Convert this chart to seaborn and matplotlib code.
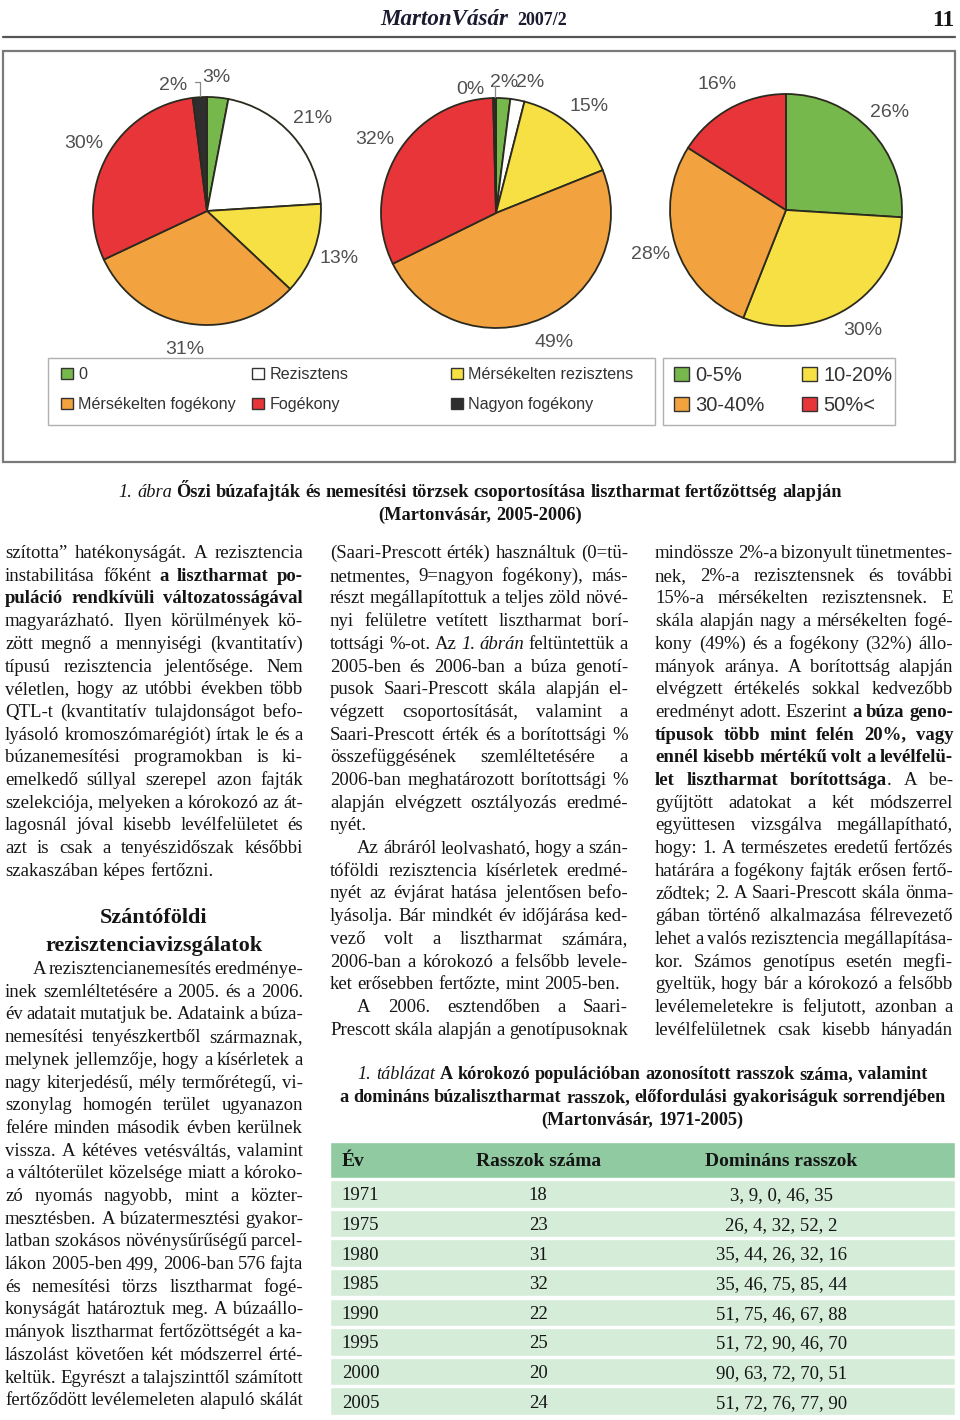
import matplotlib
matplotlib.use("Agg")
import matplotlib.pyplot as plt
import seaborn as sns
import numpy as np
from matplotlib.font_manager import FontProperties
from matplotlib.patches import Patch, Rectangle
from matplotlib.lines import Line2D

sns.set_theme(style="white")
plt.rcParams["font.family"] = ["Liberation Sans", "DejaVu Sans"]

W, H = 960, 1420
SERIF = "Liberation Serif"

# --- adatok: a harom kordiagram ---
classes = ["0", "Rezisztens", "Mérsékelten rezisztens",
           "Mérsékelten fogékony", "Fogékony", "Nagyon fogékony"]
pie_2005 = [3, 21, 13, 31, 30, 2]
labels_2005 = ["3%", "21%", "13%", "31%", "30%", "2%"]
pie_2006 = [2, 2, 15, 49, 32, 0.4]
labels_2006 = ["2%", "2%", "15%", "49%", "32%", "0%"]
cover_classes = ["0-5%", "10-20%", "30-40%", "50%<"]
pie_cover = [26, 30, 28, 16]
labels_cover = ["26%", "30%", "28%", "16%"]

class_colors = ["#77b84d", "#ffffff", "#f6e044", "#f2a23f", "#e8353a", "#2e2e2e"]
cover_colors = ["#77b84d", "#f6e044", "#f2a23f", "#e8353a"]

# --- adatok: tablazat ---
years = ["1971", "1975", "1980", "1985", "1990", "1995", "2000", "2005"]
race_counts = [18, 23, 31, 32, 22, 25, 20, 24]
dominant = ["3, 9, 0, 46, 35", "26, 4, 32, 52, 2", "35, 44, 26, 32, 16",
            "35, 46, 75, 85, 44", "51, 75, 46, 67, 88", "51, 72, 90, 46, 70",
            "90, 63, 72, 70, 51", "51, 72, 76, 77, 90"]
table_header = ["Év", "Rasszok száma", "Domináns rasszok"]

# --- szoveg (* = felkover, _ = dolt, » = behuzas, ¶ = bekezdes vege) ---
col1_a = [
    "szította” hatékonyságát. A rezisztencia",
    "instabilitása főként *a lisztharmat po-*",
    "*puláció rendkívüli változatosságával*",
    "magyarázható. Ilyen körülmények kö-",
    "zött megnő a mennyiségi (kvantitatív)",
    "típusú rezisztencia jelentősége. Nem",
    "véletlen, hogy az utóbbi években több",
    "QTL-t (kvantitatív tulajdonságot befo-",
    "lyásoló kromoszómarégiót) írtak le és a",
    "búzanemesítési programokban is ki-",
    "emelkedő súllyal szerepel azon fajták",
    "szelekciója, melyeken a kórokozó az át-",
    "lagosnál jóval kisebb levélfelületet és",
    "azt is csak a tenyészidőszak későbbi",
    "szakaszában képes fertőzni.¶",
]
heading = ["Szántóföldi", "rezisztenciavizsgálatok"]
col1_b = [
    "»A rezisztencianemesítés eredménye-",
    "inek szemléltetésére a 2005. és a 2006.",
    "év adatait mutatjuk be. Adataink a búza-",
    "nemesítési tenyészkertből származnak,",
    "melynek jellemzője, hogy a kísérletek a",
    "nagy kiterjedésű, mély termőrétegű, vi-",
    "szonylag homogén terület ugyanazon",
    "felére minden második évben kerülnek",
    "vissza. A kétéves vetésváltás, valamint",
    "a váltóterület közelsége miatt a kóroko-",
    "zó nyomás nagyobb, mint a közter-",
    "mesztésben. A búzatermesztési gyakor-",
    "latban szokásos növénysűrűségű parcel-",
    "lákon 2005-ben 499, 2006-ban 576 fajta",
    "és nemesítési törzs lisztharmat fogé-",
    "konyságát határoztuk meg. A búzaállo-",
    "mányok lisztharmat fertőzöttségét a ka-",
    "lászolást követően két módszerrel érté-",
    "keltük. Egyrészt a talajszinttől számított",
    "fertőződött levélemeleten alapuló skálát",
]
col2 = [
    "(Saari-Prescott érték) használtuk (0=tü-",
    "netmentes, 9=nagyon fogékony), más-",
    "részt megállapítottuk a teljes zöld növé-",
    "nyi felületre vetített lisztharmat borí-",
    "tottsági %-ot. Az _1. ábrán_ feltüntettük a",
    "2005-ben és 2006-ban a búza genotí-",
    "pusok Saari-Prescott skála alapján el-",
    "végzett csoportosítását, valamint a",
    "Saari-Prescott érték és a borítottsági %",
    "összefüggésének szemléltetésére a",
    "2006-ban meghatározott borítottsági %",
    "alapján elvégzett osztályozás eredmé-",
    "nyét.¶",
    "»Az ábráról leolvasható, hogy a szán-",
    "tóföldi rezisztencia kísérletek eredmé-",
    "nyét az évjárat hatása jelentősen befo-",
    "lyásolja. Bár mindkét év időjárása ked-",
    "vező volt a lisztharmat számára,",
    "2006-ban a kórokozó a felsőbb levele-",
    "ket erősebben fertőzte, mint 2005-ben.¶",
    "»A 2006. esztendőben a Saari-",
    "Prescott skála alapján a genotípusoknak",
]
col3 = [
    "mindössze 2%-a bizonyult tünetmentes-",
    "nek, 2%-a rezisztensnek és további",
    "15%-a mérsékelten rezisztensnek. E",
    "skála alapján nagy a mérsékelten fogé-",
    "kony (49%) és a fogékony (32%) állo-",
    "mányok aránya. A borítottság alapján",
    "elvégzett értékelés sokkal kedvezőbb",
    "eredményt adott. Eszerint *a búza geno-*",
    "*típusok több mint felén 20%, vagy*",
    "*ennél kisebb mértékű volt a levélfelü-*",
    "*let lisztharmat borítottsága*. A be-",
    "gyűjtött adatokat a két módszerrel",
    "együttesen vizsgálva megállapítható,",
    "hogy: 1. A természetes eredetű fertőzés",
    "határára a fogékony fajták erősen fertő-",
    "ződtek; 2. A Saari-Prescott skála önma-",
    "gában történő alkalmazása félrevezető",
    "lehet a valós rezisztencia megállapítása-",
    "kor. Számos genotípus esetén megfi-",
    "gyeltük, hogy bár a kórokozó a felsőbb",
    "levélemeletekre is feljutott, azonban a",
    "levélfelületnek csak kisebb hányadán",
]
fig_caption = ["_1. ábra_ *Őszi búzafajták és nemesítési törzsek csoportosítása lisztharmat fertőzöttség alapján*",
               "*(Martonvásár, 2005-2006)*"]
tab_caption = ["_1. táblázat_ *A kórokozó populációban azonosított rasszok száma, valamint*",
               "*a domináns búzalisztharmat rasszok, előfordulási gyakoriságuk sorrendjében*",
               "*(Martonvásár, 1971-2005)*"]

fig = plt.figure(figsize=(W / 100, H / 100), dpi=100)
fig.patch.set_facecolor("white")
rend = fig.canvas.get_renderer()


def fp(style, size, family=SERIF):
    return FontProperties(family=family, size=size,
                          weight="bold" if "b" in style else "normal",
                          style="italic" if "i" in style else "normal")


def tw(s, style, size):
    return rend.get_text_width_height_descent(s, fp(style, size), ismath=False)[0]


def parse(line):
    words, cur, buf, b, it = [], [], "", False, False
    for ch in line:
        if ch in "*_ ":
            if buf:
                cur.append((buf, ("b" if b else "") + ("i" if it else "")))
                buf = ""
            if ch == "*":
                b = not b
            elif ch == "_":
                it = not it
            elif cur:
                words.append(cur)
                cur = []
        else:
            buf += ch
    if buf:
        cur.append((buf, ("b" if b else "") + ("i" if it else "")))
    if cur:
        words.append(cur)
    return words


def natural(line, size=10):
    words = parse(line)
    sp = tw("n n", "", size) - tw("nn", "", size)
    return sum(tw(p, s, size) for w in words for p, s in w) + sp * (len(words) - 1)


def put(line, x0, x1, yb, size, align="left", color="#151515"):
    words = parse(line)
    widths = [sum(tw(p, s, size) for p, s in w) for w in words]
    sp = tw("n n", "", size) - tw("nn", "", size)
    if align == "justify" and len(words) > 1:
        gap = (x1 - x0 - sum(widths)) / (len(words) - 1)
        x = x0
    else:
        gap = sp
        total = sum(widths) + sp * (len(words) - 1)
        x = {"left": x0, "center": (x0 + x1 - total) / 2, "right": x1 - total}[align]
    for w, wd in zip(words, widths):
        xx = x
        for p, s in w:
            fig.text(xx / W, 1 - yb / H, p, fontproperties=fp(s, size),
                     color=color, va="baseline", ha="left")
            xx += tw(p, s, size)
        x += wd + gap


def block(lines, x0, x1, y0, size, step=22.7, indent=28):
    for i, line in enumerate(lines):
        xs = x0
        if line.startswith("»"):
            line, xs = line[1:], x0 + indent
        align = "justify"
        if line.endswith("¶"):
            line, align = line[:-1], "left"
        put(line, xs, x1, y0 + i * step, size, align)


# --- fejlec ---
put("*_MartonVásár_*", 380, 510, 25, 10 * 128 / natural("*_MartonVásár_*"), color="#1b1b30")
put("*2007/2*", 517, 570, 25, 10 * 50 / natural("*2007/2*"), color="#1b1b30")
put("*11*", 925, 954, 26, 10 * 22 / natural("*11*"), align="right")
fig.add_artist(Line2D([3 / W, 955 / W], [1 - 37 / H] * 2, color="#555555", lw=1.6))

# --- keret ---
fig.add_artist(Rectangle((3 / W, 1 - 462 / H), 952 / W, 411 / H, fill=False,
                         edgecolor="#7a7a7a", lw=1.6))
fig.add_artist(Rectangle((48 / W, 1 - 425 / H), 607 / W, 67 / H, fill=False,
                         edgecolor="#b0b0b0", lw=1.0))
fig.add_artist(Rectangle((663 / W, 1 - 425 / H), 232 / W, 67 / H, fill=False,
                         edgecolor="#b0b0b0", lw=1.0))


def draw_pie(cx, cy, r, values, labels, colors, overrides):
    size = 2.6 * r
    ax = fig.add_axes([(cx - size / 2) / W, 1 - (cy + size / 2) / H, size / W, size / H])
    wedges, texts = ax.pie(values, labels=labels, colors=colors, startangle=90,
                           counterclock=False, labeldistance=1.23,
                           wedgeprops=dict(edgecolor="#2b2a1f", linewidth=1.3),
                           textprops=dict(fontsize=14, color="#505050",
                                          family="Liberation Sans"))
    ax.set_xlim(-1.3, 1.3)
    ax.set_ylim(-1.3, 1.3)
    ax.set_aspect("equal")
    ax.axis("off")
    for t in texts:
        t.set_ha("center")
        t.set_va("center")
    for i, (ang, dist, leader) in overrides.items():
        lx, ly = dist * np.cos(np.radians(ang)), dist * np.sin(np.radians(ang))
        texts[i].set_position((lx, ly))
        if leader:
            mid = np.radians((wedges[i].theta1 + wedges[i].theta2) / 2)
            ax.annotate("", xy=(np.cos(mid), np.sin(mid) + 0.01), xytext=(lx + 0.19, ly + 0.03),
                        arrowprops=dict(arrowstyle="-", color="#888888", lw=0.9,
                                        connectionstyle="angle,angleA=0,angleB=90,rad=0",
                                        shrinkA=0, shrinkB=0))
    return ax


draw_pie(207, 211, 114, pie_2005, labels_2005, class_colors,
         {0: (86, 1.17, False), 5: (105, 1.14, True)})
draw_pie(496, 213, 115, pie_2006, labels_2006, class_colors,
         {0: (86.5, 1.14, False), 1: (75.5, 1.17, False), 5: (101.5, 1.1, True)})
draw_pie(786, 210, 116, pie_cover, labels_cover, cover_colors, {})


# --- jelmagyarazatok ---
def legend_col(idx, names, colors, x, y, size, lspace):
    handles = [Patch(facecolor=colors[i], edgecolor="#333333", linewidth=1.0) for i in idx]
    fig.legend(handles, [names[i] for i in idx], loc="upper left",
               bbox_to_anchor=(x / W, 1 - y / H), frameon=False, fontsize=size,
               handlelength=0.72, handleheight=0.72, handletextpad=0.35,
               labelspacing=lspace, borderpad=0, borderaxespad=0, labelcolor="#333333")


legend_col([0, 3], classes, class_colors, 61, 367, 11.6, 0.95)
legend_col([1, 4], classes, class_colors, 252, 367, 11.6, 0.95)
legend_col([2, 5], classes, class_colors, 451, 367, 11.6, 0.95)
legend_col([0, 2], cover_classes, cover_colors, 674, 366, 14.5, 0.55)
legend_col([1, 3], cover_classes, cover_colors, 802, 366, 14.5, 0.55)

# --- abrafelirat ---
cap_size = 10 * 722 / natural(fig_caption[0])
put(fig_caption[0], 0, 960, 497, cap_size, align="center")
put(fig_caption[1], 0, 960, 520, cap_size, align="center")

# --- torzsszoveg ---
BODY = 13.5
block(col1_a, 5, 303, 558, BODY)
head_size = 10 * 218 / natural("*" + heading[1] + "*")
put("*" + heading[0] + "*", 5, 303, 923, head_size, align="center")
put("*" + heading[1] + "*", 5, 303, 951, head_size, align="center")
block(col1_b, 5, 303, 974, BODY)
block(col2, 330, 628, 558, BODY, indent=27)
block(col3, 655, 953, 558, BODY)

# --- tablazat ---
tcap = 10 * 607 / natural(tab_caption[1])
for k, line in enumerate(tab_caption):
    put(line, 330, 955, 1079 + 23 * k, tcap, align="center")

tab = fig.add_axes([330 / W, 1 - 1416 / H, 625 / W, 274 / H])
tab.set_xlim(0, 1)
tab.set_ylim(8.5, -0.75)
tab.axis("off")
rows = np.arange(1, len(years) + 1)
tab.barh([-0.15], [1], height=1.2, left=0, color="#90caa1")
tab.barh(rows, [1] * len(years), height=0.93, left=0, color="#d5ecd8")
hx = [(0.019, "left"), (0.333, "center"), (0.722, "center")]
for (x, ha), name in zip(hx, table_header):
    tab.text(x, -0.15, name, ha=ha, va="center_baseline", fontproperties=fp("b", 14), color="#151515")
for r, y, n, d in zip(rows, years, race_counts, dominant):
    tab.text(hx[0][0], r, y, ha="left", va="center_baseline", fontproperties=fp("", 13.5), color="#151515")
    tab.text(hx[1][0], r, str(n), ha="center", va="center_baseline", fontproperties=fp("", 13.5), color="#151515")
    tab.text(hx[2][0], r, d, ha="center", va="center_baseline", fontproperties=fp("", 13.5), color="#151515")

fig.savefig("out.png", dpi=100, facecolor="white")
